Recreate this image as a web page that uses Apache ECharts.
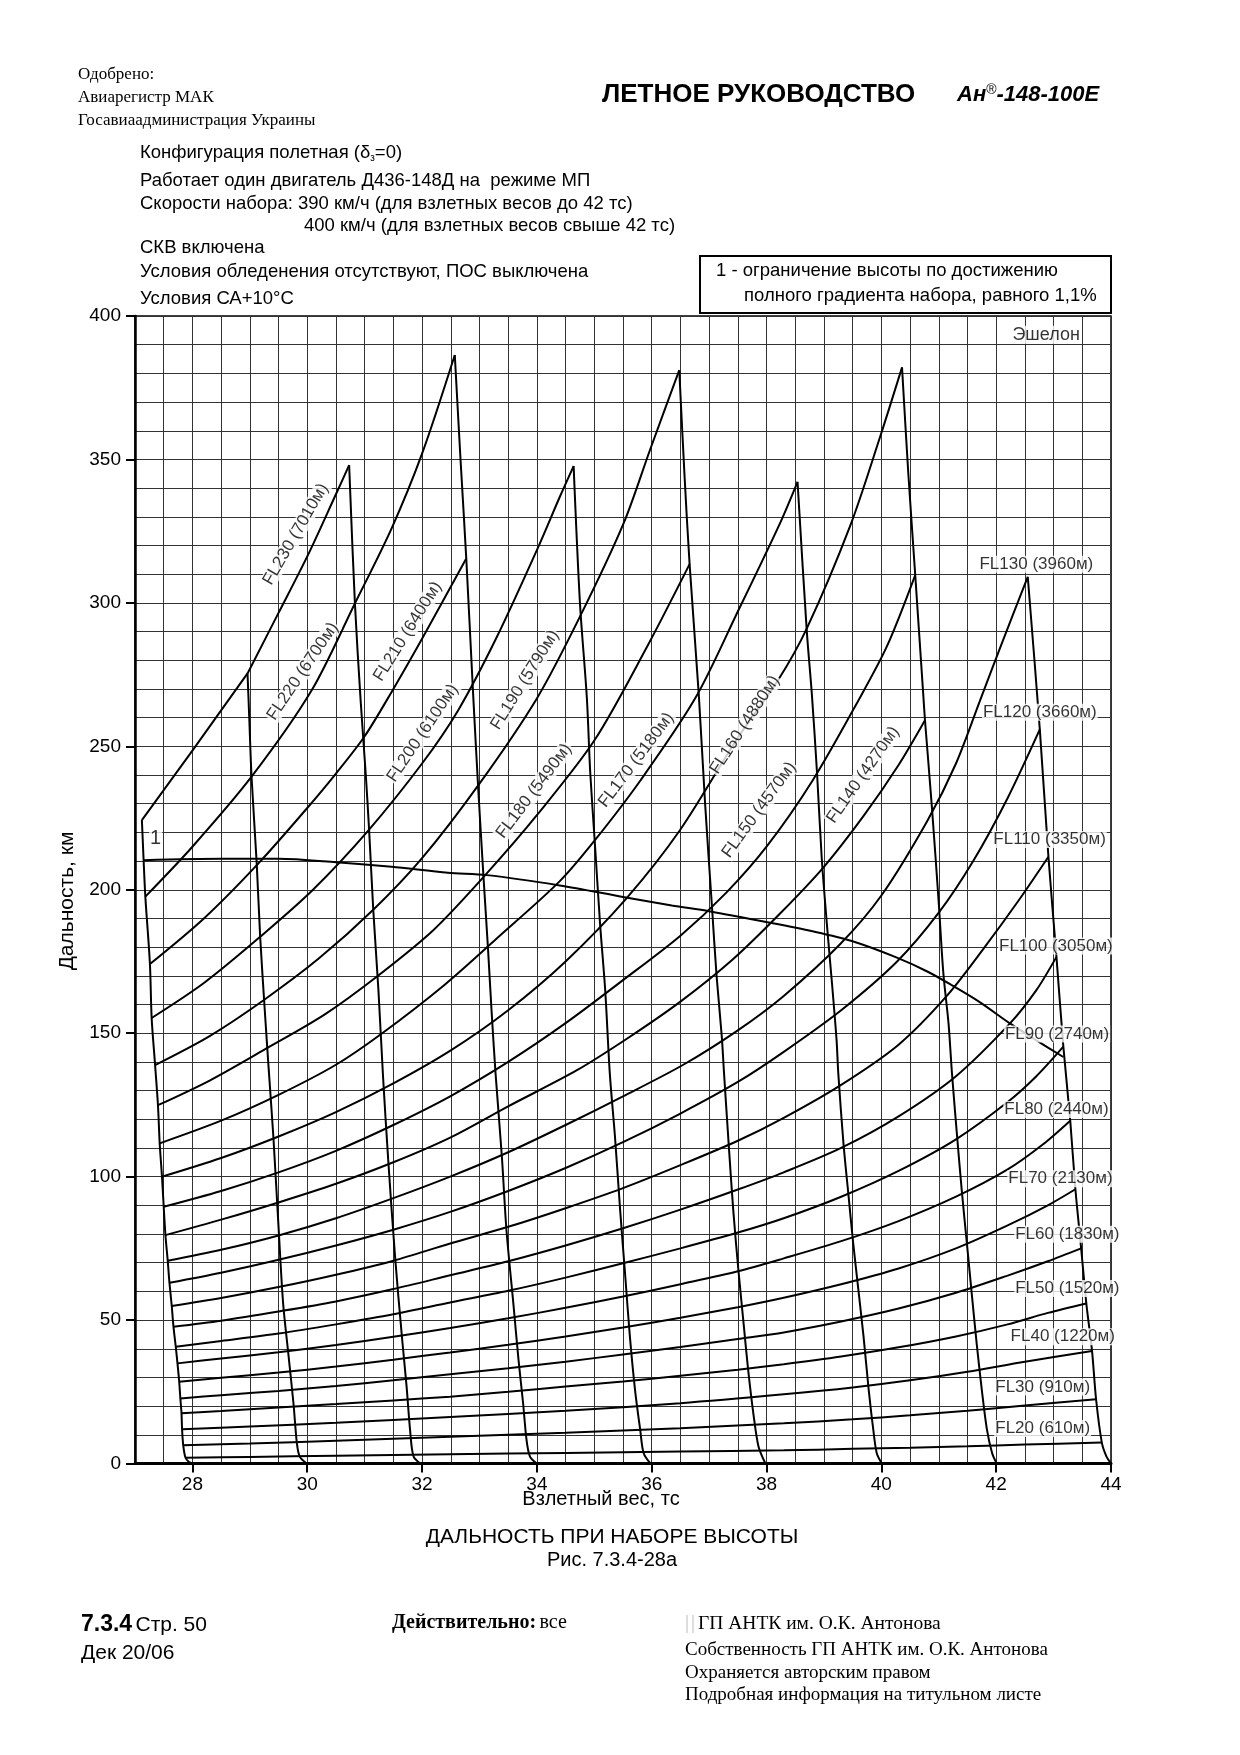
<!DOCTYPE html>
<html><head><meta charset="utf-8">
<script src="https://cdn.jsdelivr.net/npm/echarts@6/dist/echarts.min.js"></script>
<style>html,body{margin:0;padding:0;background:#fff}#c{width:1240px;height:1755px}</style>
</head><body><div id="c"></div>
<script>
// ---------- DATA ----------
const X_TICKS = [28,30,32,34,36,38,40,42,44];
const Y_TICKS = [0,50,100,150,200,250,300,350,400];

// Flight-level curves: [takeoff weight (tc), distance (km)]
const FL230a = [[27.12,224.3],[28.0,248.5],[28.96,275.4]];
const FL230 = [[28.96,275.4],[29.5,296.5],[30.02,317],[30.48,337],[30.73,348]];
const FL220 = [[27.18,197.6],[28.0,215],[29.03,239.4],[30.08,269.6],[30.83,299.8],[31.47,326],[32.0,352],[32.57,386.4]];
const FL210 = [[27.26,174.1],[28.2,190],[29.15,209.2],[30.0,228.5],[30.5,240.5],[31.0,253.5],[31.5,270],[32.0,287.5],[32.77,315.5]];
const FL200 = [[27.29,155.3],[28.2,167.5],[29.18,183.6],[30.1,200],[31.07,220.8],[32.0,244],[32.63,262.6],[33.3,288],[34.0,318.4],[34.4,337],[34.64,347.7]];
const FL190 = [[27.35,138.9],[28.3,149],[29.24,161.5],[30.2,176],[31.15,193],[32.0,211],[33.0,237],[34.0,266.7],[34.75,295.2],[35.51,327.7],[35.97,353.3],[36.48,381.1]];
const FL180 = [[27.40,124.9],[28.3,133.5],[29.29,144.7],[30.3,156.5],[31.21,169.7],[32.2,186],[33.10,205.1],[34.0,226],[35.0,252],[35.9,284],[36.66,313.5]];
const FL170 = [[27.43,111.6],[28.5,119.5],[29.5,128.5],[30.5,139],[31.3,149.9],[32.4,167],[33.3,183],[34.4,203],[35.0,217],[35.8,238],[36.76,266.8],[37.5,297],[38.24,328],[38.54,342.2]];
const FL160 = [[27.47,100.0],[28.5,106.5],[29.5,114],[30.5,122.5],[31.5,132.5],[32.5,144],[33.5,158],[34.5,175],[35.56,197],[36.5,221],[37.5,253],[38.2,273],[38.7,291],[39.46,327],[39.98,358],[40.36,382.1]];
const FL150 = [[27.50,89.5],[28.5,95],[29.5,101.5],[30.5,109],[31.5,118],[32.49,128],[33.5,140],[34.5,153.5],[35.5,168.5],[36.5,184],[37.3,199],[38.0,215],[38.8,238],[39.6,266],[40.1,285],[40.59,309.7]];
const FL140 = [[27.53,79.6],[28.5,85],[29.5,91],[30.5,97.5],[31.5,105],[32.49,113.6],[33.5,124.5],[34.69,137],[35.6,148.5],[36.5,161],[37.4,175.5],[38.24,191.8],[39.0,208],[39.7,226],[40.3,243.5],[40.76,259.1]];
const FL130 = [[27.57,70.7],[28.5,74.5],[29.5,79.5],[30.5,85.5],[31.5,92.5],[32.49,100],[33.5,108.5],[34.5,118],[35.5,128],[36.55,139],[37.5,151],[38.3,163],[39.28,181],[40.0,198],[40.8,224],[41.3,244],[41.72,266],[42.1,286],[42.55,309.1]];
const FL120 = [[27.60,63],[28.5,66.5],[29.5,71],[30.5,76],[31.5,81.5],[32.49,87.7],[33.5,95],[34.5,103],[35.5,112],[36.5,122],[37.5,133],[38.3,143.5],[39.3,158],[40.27,174.9],[41.0,192],[41.6,210],[42.2,232],[42.76,255.9]];
const FL110 = [[27.64,54.9],[28.5,57.7],[29.5,61.5],[30.5,65.8],[31.5,70.7],[32.49,76.7],[33.5,82.5],[34.5,89],[35.5,96],[36.5,104],[37.5,112.5],[38.3,120.5],[39.3,132],[40.3,146],[41.14,163],[41.8,180],[42.4,196.5],[42.91,211.5]];
const FL100 = [[27.67,47.7],[28.5,49.8],[29.5,53],[30.5,56.5],[31.5,60.8],[32.49,65.6],[33.5,70.5],[34.5,76],[35.5,82],[36.5,88.5],[37.5,95.5],[38.3,101.5],[39.3,110],[40.3,121],[41.3,135],[42.24,153.4],[42.7,165],[43.05,176.6]];
const FL90 = [[27.71,40.7],[28.5,42.7],[29.5,45.3],[30.5,48.5],[31.5,52],[32.49,56.1],[33.5,60.2],[34.5,64.8],[35.5,69.8],[36.5,75],[37.5,80.5],[38.3,85.5],[39.3,93],[40.3,102],[41.3,113],[42.2,126],[42.7,135],[43.17,145.3]];
const FL80 = [[27.74,34.9],[28.5,36.6],[29.5,38.8],[30.5,41.3],[31.5,44.2],[32.49,47.2],[33.5,50.6],[34.5,54.3],[35.5,58.2],[36.5,62.5],[37.5,67],[38.3,71.5],[39.3,77.5],[40.3,84.5],[41.3,93],[42.2,102.5],[42.8,111],[43.29,119.5]];
const FL70 = [[27.77,28.5],[28.5,29.9],[29.5,31.7],[30.5,33.8],[31.5,36.2],[32.49,38.7],[33.5,41.4],[34.5,44.3],[35.5,47.4],[36.5,50.8],[37.5,54.5],[38.3,57.8],[39.3,62.5],[40.3,68],[41.3,75],[42.2,83],[42.9,90],[43.38,95.6]];
const FL60 = [[27.79,22.7],[28.5,23.8],[29.5,25.3],[30.5,27],[31.5,29],[32.49,31.1],[33.5,33.2],[34.5,35.5],[35.5,38],[36.5,40.6],[37.5,43.4],[38.3,45.7],[39.3,49.5],[40.3,54],[41.3,59.5],[42.2,65.5],[42.9,70.5],[43.48,75]];
const FL50 = [[27.81,17.5],[28.5,18.3],[29.5,19.5],[30.5,20.7],[31.5,22],[32.49,23.3],[33.5,25],[34.5,26.8],[35.5,28.6],[36.5,30.6],[37.5,32.7],[38.3,34.6],[39.3,37.3],[40.3,40.5],[41.3,44.3],[42.2,48.5],[42.9,52.5],[43.57,55.8]];
const FL40 = [[27.82,11.9],[29,12.9],[30.5,14.2],[32.49,16.2],[34.5,18.4],[36.5,21],[38.3,24.1],[39.5,26.5],[40.5,29],[41.5,32],[42.5,35.5],[43.67,39.2]];
const FL30 = [[27.84,6.4],[29,7],[30.5,7.9],[32.49,9.3],[34.5,10.7],[36.5,12.3],[38.3,14],[39.5,15.4],[40.5,16.8],[41.5,18.4],[42.5,20.2],[43.74,22.4]];
const FL20 = [[27.88,2.0],[29,2.3],[30.5,2.7],[32.49,3.2],[34.5,3.7],[36.5,4.2],[38.3,4.6],[39.5,5.1],[40.5,5.5],[41.5,6.0],[42.5,6.6],[43.84,7.3]];

// Near-vertical boundary lines
const V1 = [[27.12,224.3],[27.15,210.3],[27.18,197.6],[27.26,174.1],[27.29,155.3],[27.35,138.9],[27.40,124.9],[27.43,111.6],[27.47,100],[27.50,89.5],[27.53,79.6],[27.57,70.7],[27.60,63],[27.64,54.9],[27.67,47.7],[27.71,40.7],[27.74,34.9],[27.77,28.5],[27.79,22.7],[27.81,17.5],[27.82,11.9],[27.84,6.4],[27.88,2.0],[27.94,0.5],[27.99,0]];
const V2 = [[28.96,275.4],[28.99,260],[29.03,239.4],[29.12,209.2],[29.18,183.6],[29.26,158.1],[29.33,137.1],[29.41,113.9],[29.50,82.5],[29.58,55.8],[29.67,38.4],[29.76,21.0],[29.82,7.0],[29.87,2.4],[29.99,0]];
const V3 = [[30.73,348],[30.83,300],[30.93,266],[31.02,240],[31.08,220],[31.15,193],[31.24,165],[31.32,135],[31.41,106],[31.53,72],[31.65,44],[31.73,27],[31.79,12],[31.85,2.5],[31.97,0]];
const V4 = [[32.57,386.4],[32.67,350],[32.77,315.5],[32.89,268],[32.98,234.7],[33.07,204.5],[33.15,179],[33.21,158],[33.28,136],[33.39,107],[33.47,81.4],[33.59,55.8],[33.68,36.1],[33.76,21],[33.82,8.2],[33.88,2.4],[34.0,0]];
const V5 = [[34.64,347.7],[34.75,300],[34.87,267],[34.93,240.6],[35.01,216.2],[35.10,188.3],[35.19,165],[35.27,136],[35.36,114],[35.45,88.4],[35.54,65.1],[35.62,44.2],[35.71,25.6],[35.80,11.7],[35.86,3.6],[35.98,0]];
const V6 = [[36.48,381.1],[36.57,345],[36.66,313.5],[36.82,268],[36.93,230],[37.05,194],[37.13,170],[37.22,149],[37.26,136],[37.34,111.6],[37.42,88.4],[37.51,67.4],[37.60,48.9],[37.68,32.6],[37.77,17.5],[37.86,5.9],[37.98,0]];
const V7 = [[38.54,342.2],[38.70,290.5],[38.79,268],[38.88,240.6],[38.96,211.5],[39.05,188.3],[39.14,167.4],[39.22,147.6],[39.25,136],[39.34,111.6],[39.43,93],[39.51,76.7],[39.60,60.5],[39.69,44.2],[39.78,25.6],[39.86,11.7],[39.92,3.6],[40.01,0]];
const V8 = [[40.36,382.1],[40.47,345],[40.59,309.7],[40.73,268],[40.76,259.1],[40.88,228.9],[41.0,195.3],[41.08,170.9],[41.17,153.4],[41.23,136],[41.32,113.9],[41.40,95.3],[41.49,76.7],[41.58,58.1],[41.66,41.9],[41.75,25.6],[41.84,11.7],[41.93,3.6],[42.01,0]];
const V9 = [[42.55,309.1],[42.76,255.9],[42.91,211.5],[43.05,176.6],[43.17,145.3],[43.29,119.5],[43.38,95.6],[43.48,75],[43.57,55.8],[43.67,39.2],[43.74,22.4],[43.84,7.3],[43.92,2.5],[44.0,0]];

// Limit line "1" (full climb gradient 1.1 %)
const LIMIT1 = [[27.15,210.3],[28.5,210.8],[29.5,210.8],[30.5,209.6],[31.47,208],[32.45,205.9],[33.13,205.1],[34.4,201.5],[35.5,197.5],[36.35,194.5],[37.0,192.5],[38.06,188.5],[38.8,185.5],[39.47,182.2],[40.25,176.5],[40.8,171.5],[41.22,166.8],[41.7,161],[42.24,153.4],[42.7,147.5],[43.17,141.7]];

// Curve labels (text)
const FL_NAMES = ['FL230 (7010м)','FL220 (6700м)','FL210 (6400м)','FL200 (6100м)','FL190 (5790м)','FL180 (5490м)','FL170 (5180м)','FL160 (4880м)','FL150 (4570м)','FL140 (4270м)',
  'FL130 (3960м)','FL120 (3660м)','FL110 (3350м)','FL100 (3050м)','FL90 (2740м)','FL80 (2440м)','FL70 (2130м)','FL60 (1830м)','FL50 (1520м)','FL40 (1220м)','FL30 (910м)','FL20 (610м)'];

// ---------- LAYOUT (label anchors in data units, rotation in degrees) ----------
const LABEL_POS = [
  [29.80,323.9,60],[29.92,276.1,56],[31.75,290.0,58],[32.01,254.6,56],[33.79,273.1,58],
  [33.95,234.4,53],[35.73,245.2,53],[37.62,257.5,57],[37.87,227.8,54],[39.68,240.0,55],
  [42.70,313.5,0],[42.76,261.9,0],[42.93,217.5,0],[43.04,180.4,0],[43.06,149.7,0],[43.05,123.4,0],
  [43.12,99.3,0],[43.24,79.9,0],[43.24,61.0,0],[43.16,44.2,0],[42.81,26.7,0],[42.81,12.2,0]
];
const EXTRA_LABELS = [['Эшелон',42.87,393.5,18],['1',27.36,217.7,20]];

const SANS = '"Liberation Sans", Arial, sans-serif';
const SERIF = '"Liberation Serif", "Times New Roman", serif';

const curveList = [FL230a,FL230,FL220,FL210,FL200,FL190,FL180,FL170,FL160,FL150,FL140,FL130,FL120,FL110,FL100,FL90,FL80,FL70,FL60,FL50,FL40,FL30,FL20];
const vertList = [V1,V2,V3,V4,V5,V6,V7,V8,V9];

const series = [];
curveList.forEach((d,i)=>{
  series.push({type:'line', data:d, symbol:'none', smooth: i===0 ? false : 0.3, silent:true,
    lineStyle:{color:'#000', width:2}, z:3});
});
vertList.forEach(d=>{
  series.push({type:'line', data:d, symbol:'none', smooth:0.3, silent:true, lineStyle:{color:'#000', width:2}, z:3});
});
series.push({type:'line', data:LIMIT1, symbol:'none', smooth:0.3, silent:true, lineStyle:{color:'#000', width:2}, z:3});

series.push({type:'scatter', silent:true, symbolSize:1, itemStyle:{color:'rgba(0,0,0,0)'}, z:10,
  data: FL_NAMES.map((n,i)=>({value:[LABEL_POS[i][0],LABEL_POS[i][1]], label:{formatter:n, rotate:LABEL_POS[i][2]}})),
  label:{show:true, position:'inside', color:'#000', fontSize:17, fontFamily:SANS, backgroundColor:'#fff', padding:[0,1]}
});
series.push({type:'scatter', silent:true, symbolSize:1, itemStyle:{color:'rgba(0,0,0,0)'}, z:10,
  data: EXTRA_LABELS.map(l=>({value:[l[1],l[2]], label:{formatter:l[0], fontSize:l[3]}})),
  label:{show:true, position:'inside', color:'#000', fontFamily:SANS, backgroundColor:'#fff', padding:[0,1]}
});

function txt(text, x, y, font, opts){
  return Object.assign({type:'text', x:x, y:y, silent:true, z:20,
    style:Object.assign({text:text, font:font, fill:'#000', textAlign:'left', textVerticalAlign:'middle', align:'left', verticalAlign:'middle'}, (opts&&opts.style)||{})},
    (opts&&opts.el)||{});
}

const graphics = [
  txt('Одобрено:', 78, 75, '17px '+SERIF),
  txt('Авиарегистр МАК', 78, 98, '17px '+SERIF),
  txt('Госавиаадминистрация Украины', 78, 121, '17px '+SERIF),
  txt('ЛЕТНОЕ РУКОВОДСТВО', 602, 95, 'bold 26px '+SANS),
  {type:'text', x:957, y:95, silent:true, style:{text:'{a|Ан}{r|®}{a|-148-100Е}', textVerticalAlign:'middle', verticalAlign:'middle',
     rich:{a:{font:'italic bold 22px '+SANS, fill:'#000'}, r:{font:'14px '+SANS, fill:'#000', padding:[0,0,10,0]}}}},
  {type:'text', x:140, y:153, silent:true, style:{text:'{n|Конфигурация полетная (δ}{s|з}{n|=0)}', textVerticalAlign:'middle', verticalAlign:'middle',
     rich:{n:{font:'18.5px '+SANS, fill:'#000'}, s:{font:'10px '+SANS, fill:'#000', padding:[10,0,0,0]}}}},
  txt('Работает один двигатель Д436-148Д на  режиме МП', 140, 181, '18.5px '+SANS),
  txt('Скорости набора: 390 км/ч (для взлетных весов до 42 тс)', 140, 204, '18.5px '+SANS),
  txt('400 км/ч (для взлетных весов свыше 42 тс)', 304, 226, '18.5px '+SANS),
  txt('СКВ включена', 140, 248, '18.5px '+SANS),
  txt('Условия обледенения отсутствуют, ПОС выключена', 140, 272, '18.5px '+SANS),
  txt('Условия СА+10°С', 140, 299, '18.5px '+SANS),
  {type:'rect', shape:{x:700, y:256, width:411, height:57}, silent:true, z:20, style:{fill:'#fff', stroke:'#000', lineWidth:2}},
  txt('1 - ограничение высоты по достижению', 716, 271, '18.5px '+SANS, {el:{z:21}}),
  txt('полного градиента набора, равного 1,1%', 744, 295.5, '18.5px '+SANS, {el:{z:21}}),
  txt('Дальность, км', 67, 901, '21px '+SANS, {el:{rotation:Math.PI/2}, style:{textAlign:'center', align:'center'}}),
  txt('Взлетный вес, тс', 601, 1499, '20px '+SANS, {style:{textAlign:'center', align:'center'}}),
  txt('ДАЛЬНОСТЬ ПРИ НАБОРЕ ВЫСОТЫ', 612, 1537, '21px '+SANS, {style:{textAlign:'center', align:'center'}}),
  txt('Рис. 7.3.4-28а', 612, 1560, '20px '+SANS, {style:{textAlign:'center', align:'center'}}),
  {type:'text', x:81, y:1625, silent:true, style:{text:'{b|7.3.4} {n|Стр. 50}', textVerticalAlign:'middle', verticalAlign:'middle',
     rich:{b:{font:'bold 23px '+SANS, fill:'#000'}, n:{font:'21px '+SANS, fill:'#000'}}}},
  txt('Дек 20/06', 81, 1653, '21px '+SANS),
  {type:'text', x:392, y:1623, silent:true, style:{text:'{b|Действительно:} {n|все}', textVerticalAlign:'middle', verticalAlign:'middle',
     rich:{b:{font:'bold 20px '+SERIF, fill:'#000'}, n:{font:'20px '+SERIF, fill:'#000'}}}},
  {type:'line', shape:{x1:687, y1:1615, x2:687, y2:1633}, silent:true, style:{stroke:'#bbb', lineWidth:1}},
  {type:'line', shape:{x1:693, y1:1615, x2:693, y2:1633}, silent:true, style:{stroke:'#bbb', lineWidth:1}},
  txt('ГП АНТК им. О.К. Антонова', 698, 1624, '19.5px '+SERIF),
  txt('Собственность ГП АНТК им. О.К. Антонова', 685, 1650, '19px '+SERIF),
  txt('Охраняется авторским правом', 685, 1673, '19px '+SERIF),
  txt('Подробная информация на титульном листе', 685, 1695, '19px '+SERIF)
];

const chart = echarts.init(document.getElementById('c'), null, {renderer:'canvas', width:1240, height:1755});
const gridLine = {show:true, lineStyle:{color:'#333', width:1}};
chart.setOption({
  backgroundColor:'#fff',
  animation:false,
  grid:{left:135, top:316, right:129, bottom:291.5, show:true, borderColor:'#000', borderWidth:1.5, backgroundColor:'transparent'},
  xAxis:[
    {type:'value', min:27, max:44, position:'bottom', offset:0,
      axisLine:{show:true, onZero:false, lineStyle:{color:'#000', width:3}},
      axisTick:{show:true, customValues:X_TICKS, length:9, lineStyle:{color:'#000', width:2}},
      axisLabel:{show:true, customValues:X_TICKS, color:'#000', fontSize:19, fontFamily:SANS, margin:12},
      splitLine:{show:false}},
    {type:'value', min:27, max:44, interval:0.5, position:'bottom', offset:0,
      axisLine:{show:false}, axisTick:{show:false}, axisLabel:{show:false}, splitLine:gridLine}
  ],
  yAxis:[
    {type:'value', min:0, max:400, position:'left', offset:0,
      axisLine:{show:true, onZero:false, lineStyle:{color:'#000', width:2.5}},
      axisTick:{show:true, customValues:Y_TICKS, length:9, lineStyle:{color:'#000', width:2}},
      axisLabel:{show:true, customValues:Y_TICKS, color:'#000', fontSize:19, fontFamily:SANS, margin:14},
      splitLine:{show:false}},
    {type:'value', min:0, max:400, interval:10, position:'left', offset:0,
      axisLine:{show:false}, axisTick:{show:false}, axisLabel:{show:false}, splitLine:gridLine}
  ],
  series:series,
  graphic:graphics
});
</script></body></html>
